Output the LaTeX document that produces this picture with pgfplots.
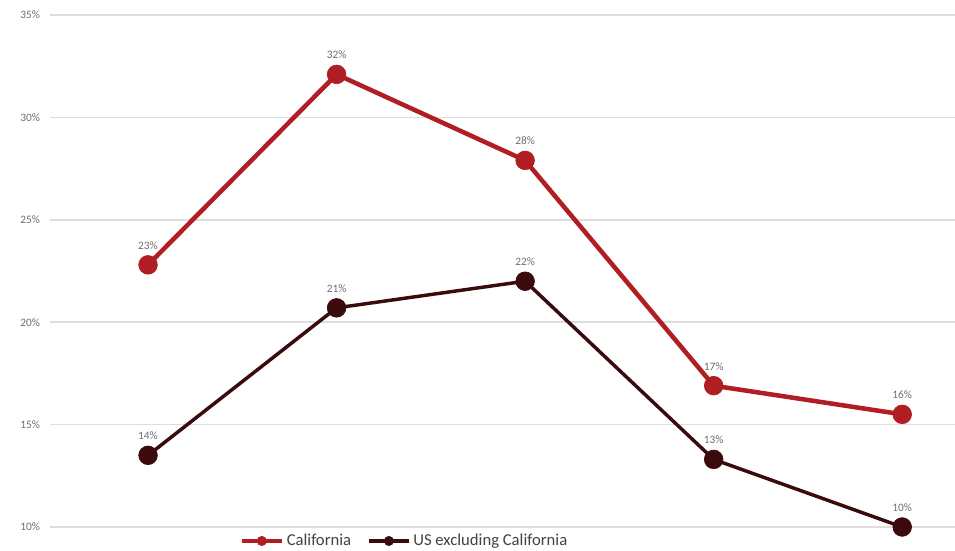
\documentclass[border=0pt]{standalone}
\usepackage{pgfplots}
\pgfplotsset{compat=1.18}
\usepackage{fontspec}
\setmainfont{Carlito}
\definecolor{calred}{HTML}{B01E23}
\definecolor{usdark}{HTML}{3A0A0C}
\definecolor{gridgray}{HTML}{DEDEDE}
\definecolor{labgray}{HTML}{6E6E6E}
\begin{document}
\begin{tikzpicture}
\begin{axis}[
  name=ax,
  scale only axis,
  width=678.75pt, height=384pt,
  xmin=-0.52, xmax=4.28,
  ymin=10, ymax=35,
  ytick={10,15,20,25,30,35},
  yticklabel={\pgfmathprintnumber{\tick}\%},
  /pgf/number format/assume math mode=true,
  yticklabel style={font=\fontsize{8.5}{10}\selectfont, text=labgray, xshift=-4pt},
  xtick=\empty,
  axis line style={draw=none},
  major tick length=0pt,
  ymajorgrids,
  grid style={gridgray, line width=1.1pt},
  clip=false,
  nodes near coords,
  point meta=explicit symbolic,
  every node near coord/.append style={font=\fontsize{8.5}{10}\selectfont, text=labgray, anchor=south, yshift=8pt},
  legend style={draw=none, fill=none, at={(0.392,-0.0273)}, anchor=center,
    font=\fontsize{12.5}{14}\selectfont, text=labgray!60!black,
    legend columns=2, /tikz/every even column/.append style={column sep=10pt},
    inner sep=0pt, legend cell align=left},
  legend image code/.code={\draw[#1, mark size=3.5pt] (0pt,0pt) -- (15pt,0pt) plot coordinates {(15pt,0pt)} -- (30pt,0pt);},
]
\addplot[calred, line width=3.4pt, mark=*, mark size=7pt, mark options={fill=calred, line width=0.5pt}]
  table[meta=lab] {
x y lab
0 22.8 23\%
1 32.1 32\%
2 27.9 28\%
3 16.9 17\%
4 15.5 16\%
};
\addlegendentry{California}
\addplot[usdark, line width=2.6pt, mark=*, mark size=7pt, mark options={fill=usdark, line width=0.5pt}]
  table[meta=lab] {
x y lab
0 13.5 14\%
1 20.7 21\%
2 22.0 22\%
3 13.3 13\%
4 10.0 10\%
};
\addlegendentry{US excluding California}
\end{axis}
\pgfresetboundingbox
\path[use as bounding box] ([xshift=-37.5pt, yshift=-18pt]ax.south west) rectangle ([yshift=11.25pt]ax.north east);
\end{tikzpicture}
\end{document}
